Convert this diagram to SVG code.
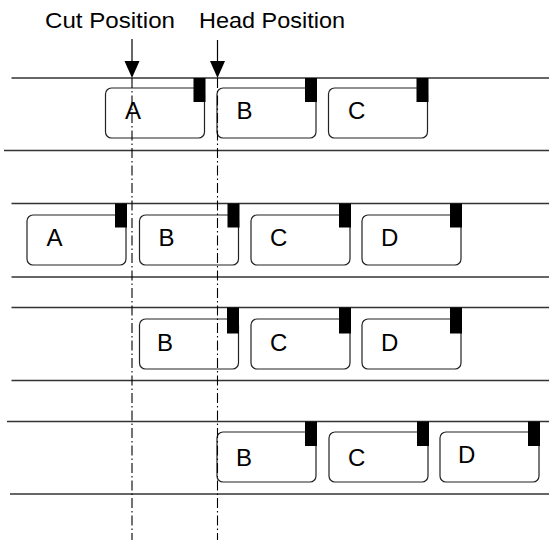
<svg xmlns="http://www.w3.org/2000/svg" width="549" height="540" viewBox="0 0 549 540">
<style>
.track{stroke:#333;stroke-width:1.3;fill:none}
.box{fill:#fff;stroke:#222;stroke-width:1.2}
.tab{fill:#000}
.lbl{font-family:"Liberation Sans",Arial,sans-serif;font-size:24px;fill:#000}
.title{font-family:"Liberation Sans",Arial,sans-serif;font-size:22px;fill:#000}
.guide{stroke:#000;stroke-width:1.1;stroke-dasharray:10 3 1.5 3;fill:none}
.arrow{stroke:#000;stroke-width:1.2;fill:none}
</style>
<defs>
<marker id="ah" markerWidth="15" markerHeight="17" refX="7.5" refY="17" orient="auto" markerUnits="userSpaceOnUse" viewBox="0 0 15 17">
<path d="M0,0 L15,0 L7.5,17 Z" fill="#000" transform="rotate(-90 7.5 8.5)"/>
</marker>
</defs>
<rect width="549" height="540" fill="#fff"/>
<g id="tracks">
<line class="track" x1="11.5" y1="78" x2="549" y2="78"/>
<line class="track" x1="4" y1="150.5" x2="549" y2="150.5"/>
<line class="track" x1="11.5" y1="203.5" x2="549" y2="203.5"/>
<line class="track" x1="11.5" y1="277" x2="549" y2="277"/>
<line class="track" x1="11.5" y1="307.5" x2="549" y2="307.5"/>
<line class="track" x1="11.5" y1="380.5" x2="549" y2="380.5"/>
<line class="track" x1="7" y1="421.5" x2="549" y2="421.5"/>
<line class="track" x1="10" y1="494" x2="549" y2="494"/>
</g>
<g id="r1-A"><rect class="box" x="105.5" y="88" width="99" height="50" rx="6"/><rect class="tab" x="193.5" y="78" width="12" height="24"/><text class="lbl" x="125" y="119">A</text></g>
<g id="r1-B"><rect class="box" x="217" y="88" width="99" height="50" rx="6"/><rect class="tab" x="305" y="78" width="12" height="24"/><text class="lbl" x="236.5" y="119">B</text></g>
<g id="r1-C"><rect class="box" x="328.5" y="88" width="99" height="50" rx="6"/><rect class="tab" x="416.5" y="78" width="12" height="24"/><text class="lbl" x="348" y="119">C</text></g>
<g id="r2-A"><rect class="box" x="27" y="215" width="99" height="50" rx="6"/><rect class="tab" x="115" y="203.5" width="12" height="24"/><text class="lbl" x="46.5" y="246">A</text></g>
<g id="r2-B"><rect class="box" x="139.5" y="215" width="99" height="50" rx="6"/><rect class="tab" x="227.5" y="203.5" width="12" height="24"/><text class="lbl" x="158.5" y="246">B</text></g>
<g id="r2-C"><rect class="box" x="251" y="215" width="99" height="50" rx="6"/><rect class="tab" x="339" y="203.5" width="12" height="24"/><text class="lbl" x="270" y="246">C</text></g>
<g id="r2-D"><rect class="box" x="362" y="215" width="99" height="50" rx="6"/><rect class="tab" x="450" y="203.5" width="12" height="24"/><text class="lbl" x="381" y="246">D</text></g>
<g id="r3-B"><rect class="box" x="139.5" y="319" width="99" height="50" rx="6"/><rect class="tab" x="227" y="307.5" width="12" height="26"/><text class="lbl" x="157" y="351">B</text></g>
<g id="r3-C"><rect class="box" x="251" y="319" width="99" height="50" rx="6"/><rect class="tab" x="339" y="307.5" width="12" height="26"/><text class="lbl" x="270" y="351">C</text></g>
<g id="r3-D"><rect class="box" x="362" y="319" width="99" height="50" rx="6"/><rect class="tab" x="450" y="307.5" width="12" height="26"/><text class="lbl" x="381" y="351">D</text></g>
<g id="r4-B"><rect class="box" x="217" y="432" width="99" height="50" rx="6"/><rect class="tab" x="305" y="421.5" width="12" height="24.5"/><text class="lbl" x="236" y="466">B</text></g>
<g id="r4-C"><rect class="box" x="329" y="432" width="99" height="50" rx="6"/><rect class="tab" x="417" y="421.5" width="12" height="24.5"/><text class="lbl" x="348" y="466">C</text></g>
<g id="r4-D"><rect class="box" x="440" y="432" width="99" height="50" rx="6"/><rect class="tab" x="528" y="421.5" width="12" height="24.5"/><text class="lbl" x="458" y="463">D</text></g>
<g id="guides">
<line class="guide" x1="132" y1="78" x2="132" y2="540"/>
<line class="guide" x1="217.5" y1="78" x2="217.5" y2="540"/>
</g>
<g id="labels">
<text class="title" x="45" y="28" textLength="130" lengthAdjust="spacingAndGlyphs">Cut Position</text>
<text class="title" x="199" y="28" textLength="146" lengthAdjust="spacingAndGlyphs">Head Position</text>
</g>
<g id="connectors">
<line class="arrow" x1="132" y1="39" x2="132" y2="62"/>
<path d="M124.5,61 L139.5,61 L132,78 Z" fill="#000"/>
<line class="arrow" x1="217.5" y1="40" x2="217.5" y2="62"/>
<path d="M210,61 L225,61 L217.5,78 Z" fill="#000"/>
</g>
</svg>
